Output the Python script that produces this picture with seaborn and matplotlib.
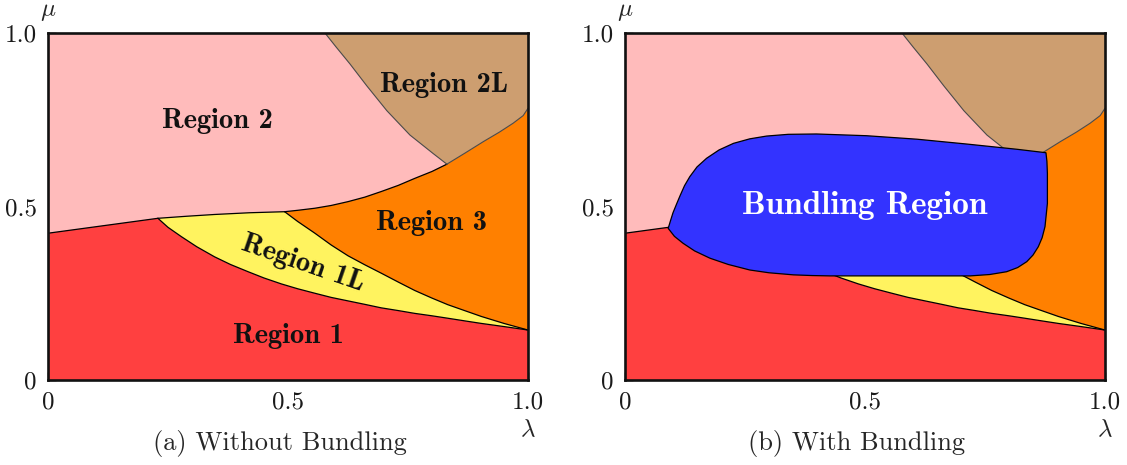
import numpy as np
import matplotlib
matplotlib.use("Agg")
import matplotlib.pyplot as plt
import seaborn as sns

# ---- boundary curves (lambda, mu) ----
# Region 1 / Region 2 boundary
red_pink_lam = [0.0, 0.229]
red_pink_mu = [0.423, 0.466]

# Region 1 / Region 1L boundary
red_yel_lam = [0.229, 0.250, 0.278, 0.310, 0.347, 0.380, 0.417, 0.450, 0.486, 0.520,
               0.556, 0.590, 0.625, 0.660, 0.694, 0.730, 0.764, 0.800, 0.833, 0.870,
               0.903, 0.950, 1.0]
red_yel_mu = [0.466, 0.440, 0.413, 0.384, 0.355, 0.333, 0.312, 0.294, 0.277, 0.263,
              0.250, 0.238, 0.228, 0.218, 0.208, 0.200, 0.192, 0.185, 0.178, 0.170,
              0.163, 0.154, 0.144]

# Region 1L / Region 2 boundary
yel_pink_lam = [0.229, 0.290, 0.347, 0.420, 0.493]
yel_pink_mu = [0.466, 0.472, 0.477, 0.482, 0.485]

# Region 1L / Region 3 boundary
yel_org_lam = [0.493, 0.520, 0.556, 0.590, 0.625, 0.660, 0.694, 0.730, 0.764, 0.800,
               0.833, 0.870, 0.903, 0.950, 1.0]
yel_org_mu = [0.485, 0.457, 0.423, 0.389, 0.358, 0.332, 0.308, 0.282, 0.258, 0.236,
              0.217, 0.199, 0.183, 0.163, 0.144]

# Region 3 upper boundary (against Region 2, then Region 2L)
org_top_lam = [0.493, 0.520, 0.556, 0.590, 0.625, 0.660, 0.694, 0.730, 0.764, 0.800,
               0.831, 0.870, 0.907, 0.940, 0.969, 0.990, 1.0]
org_top_mu = [0.485, 0.489, 0.495, 0.503, 0.514, 0.527, 0.543, 0.561, 0.581, 0.601,
              0.622, 0.655, 0.687, 0.714, 0.740, 0.762, 0.783]

# Region 2 / Region 2L boundary
brown_lam = [0.577, 0.600, 0.629, 0.664, 0.706, 0.754, 0.803, 0.831]
brown_mu = [1.0, 0.960, 0.911, 0.848, 0.776, 0.706, 0.652, 0.622]

# Bundling region outline
bundle_lam = [0.090, 0.095, 0.100, 0.108, 0.115, 0.124, 0.135, 0.150, 0.170, 0.196,
              0.226, 0.260, 0.295, 0.340, 0.399, 0.503, 0.608, 0.712, 0.816, 0.877,
              0.879, 0.880, 0.880, 0.880, 0.875, 0.869, 0.861, 0.850, 0.837, 0.818,
              0.795, 0.760, 0.719, 0.427, 0.390, 0.351, 0.300, 0.260, 0.215, 0.177,
              0.145, 0.121, 0.103, 0.090]
bundle_mu = [0.437, 0.460, 0.482, 0.509, 0.532, 0.560, 0.586, 0.614, 0.639, 0.663,
             0.682, 0.695, 0.703, 0.708, 0.709, 0.704, 0.694, 0.680, 0.665, 0.655,
             0.630, 0.595, 0.550, 0.509, 0.442, 0.410, 0.384, 0.360, 0.341, 0.324,
             0.312, 0.304, 0.300, 0.300, 0.301, 0.303, 0.309, 0.317, 0.333, 0.351,
             0.372, 0.394, 0.414, 0.437]

tick_pos = [0, 0.25, 0.5, 0.75, 1.0]
tick_text = ["0", "", "0.5", "", "1.0"]
captions = ["(a) Without Bundling", "(b) With Bundling"]

C_PINK = "#FFBBBB"
C_RED = "#FF4040"
C_YEL = "#FFF35F"
C_ORG = "#FF8000"
C_BROWN = "#CD9E70"
C_BLUE = "#3333FF"

sns.set_theme(style="ticks")
plt.rcParams["mathtext.fontset"] = "cm"
plt.rcParams["font.family"] = ["cmr10", "DejaVu Serif"]


def curve(ax, lam, mu, color="black", lw=0.9):
    sns.lineplot(x=lam, y=mu, ax=ax, sort=False, estimator=None,
                 color=color, linewidth=lw, zorder=3)


def draw_base(ax):
    ax.fill([0, 1, 1, 0], [0, 0, 1, 1], color=C_PINK, lw=0, zorder=1)
    # Region 1
    lx = [0.0] + red_pink_lam + red_yel_lam[1:] + [1.0]
    ly = [0.0] + red_pink_mu + red_yel_mu[1:] + [0.0]
    ax.fill(lx, ly, color=C_RED, lw=0, zorder=2)
    # Region 1L
    lx = yel_pink_lam + yel_org_lam[1:] + red_yel_lam[::-1][1:]
    ly = yel_pink_mu + yel_org_mu[1:] + red_yel_mu[::-1][1:]
    ax.fill(lx, ly, color=C_YEL, lw=0, zorder=2)
    # Region 3
    lx = org_top_lam + [1.0] + yel_org_lam[::-1]
    ly = org_top_mu + [0.144] + yel_org_mu[::-1]
    ax.fill(lx, ly, color=C_ORG, lw=0, zorder=2)
    # Region 2L
    top_l = np.array(org_top_lam)
    top_m = np.array(org_top_mu)
    sel = top_l >= 0.831
    lx = brown_lam + list(top_l[sel][1:]) + [1.0]
    ly = brown_mu + list(top_m[sel][1:]) + [1.0]
    ax.fill(lx, ly, color=C_BROWN, lw=0, zorder=2)

    curve(ax, red_pink_lam, red_pink_mu)
    curve(ax, red_yel_lam, red_yel_mu)
    curve(ax, yel_pink_lam, yel_pink_mu)
    curve(ax, yel_org_lam, yel_org_mu)
    lo = top_l <= 0.831
    curve(ax, top_l[lo], top_m[lo])
    curve(ax, top_l[sel], top_m[sel], color="#4a4a4a", lw=0.8)
    curve(ax, brown_lam, brown_mu, color="#4a4a4a", lw=0.8)


def style_axes(ax, caption):
    ax.set_xlim(0, 1)
    ax.set_ylim(0, 1)
    ax.set_xlabel("")
    ax.set_ylabel("")
    ax.set_xticks(tick_pos)
    ax.set_yticks(tick_pos)
    ax.set_xticklabels(tick_text, fontsize=18, family="cmr10")
    ax.set_yticklabels(tick_text, fontsize=18, family="cmr10")
    ax.tick_params(direction="in", length=6, width=1.0, color="black",
                   labelcolor="#1a1a1a", top=False, right=False)
    ax.tick_params(axis="x", pad=8)
    ax.tick_params(axis="y", pad=8)
    for s in ax.spines.values():
        s.set_visible(True)
        s.set_color("#111111")
        s.set_linewidth(1.9)
        s.set_zorder(6)
    ax.text(0.0, 1.06, r"$\mu$", fontsize=18, ha="center", va="center",
            transform=ax.transAxes, clip_on=False)
    ax.text(1.0, -0.145, r"$\lambda$", fontsize=18, ha="center", va="center",
            transform=ax.transAxes, clip_on=False)
    ax.text(0.483, -0.182, caption, fontsize=19, ha="center", va="center",
            family="cmr10", transform=ax.transAxes, clip_on=False)


fig = plt.figure(figsize=(11.27, 4.65), dpi=100)
ax1 = fig.add_axes([48 / 1127, 85 / 465, 480 / 1127, 347 / 465])
ax2 = fig.add_axes([625 / 1127, 85 / 465, 480 / 1127, 347 / 465])

draw_base(ax1)
lbl = dict(fontsize=20.5, family="cmb10", ha="center", va="center", zorder=5, color="#111111")
ax1.text(0.352, 0.746, "Region 2", **lbl)
ax1.text(0.824, 0.850, "Region 2L", **lbl)
ax1.text(0.799, 0.452, "Region 3", **lbl)
ax1.text(0.531, 0.336, "Region 1L", rotation=-19, **lbl)
ax1.text(0.500, 0.127, "Region 1", **lbl)
style_axes(ax1, captions[0])

draw_base(ax2)
ax2.fill(bundle_lam, bundle_mu, facecolor=C_BLUE, edgecolor="black", lw=0.9, zorder=4)
ax2.text(0.5, 0.504, "Bundling Region", fontsize=24, family="cmb10", color="white",
         ha="center", va="center", zorder=5)
style_axes(ax2, captions[1])

fig.savefig("out.png", dpi=100, facecolor="white")
